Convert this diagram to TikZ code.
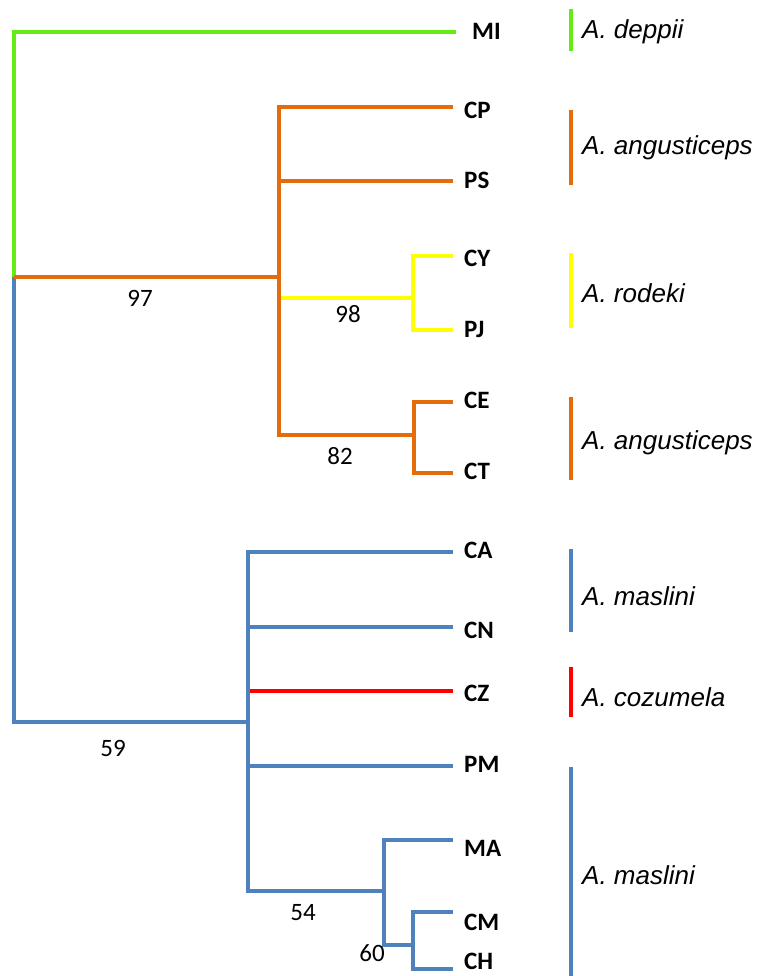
\documentclass[tikz,border=0pt]{standalone}
\usepackage{fontspec}
\setmainfont{Carlito}
\newfontfamily\arialf{Liberation Sans}
\definecolor{cgreen}{RGB}{100,235,20}
\definecolor{corange}{RGB}{228,108,10}
\definecolor{cyellow}{RGB}{255,255,0}
\definecolor{cblue}{RGB}{79,129,189}
\definecolor{cred}{RGB}{255,0,0}
\tikzset{
  br/.style={line width=4pt, line join=miter},
  gr/.style={br, draw=cgreen},
  orl/.style={br, draw=corange},
  yl/.style={br, draw=cyellow},
  bl/.style={br, draw=cblue},
  rd/.style={br, draw=cred},
  leaf/.style={anchor=west, inner sep=0pt, font=\fontsize{25}{28}\selectfont\bfseries},
  boot/.style={inner sep=0pt, font=\fontsize{25}{28}\selectfont},
  spec/.style={anchor=west, inner sep=0pt, font=\arialf\itshape\fontsize{26}{30}\selectfont},
  bar/.style={line width=4pt}
}
\begin{document}
\begin{tikzpicture}[x=1pt,y=-1pt]
\useasboundingbox (0,0) rectangle (758,976);
% internal nodes
\coordinate (root) at (14,277);
\coordinate (n97) at (279,277);
\coordinate (n98) at (413,298);
\coordinate (n82) at (414,435);
\coordinate (n59) at (248,722);
\coordinate (n54) at (384,891);
\coordinate (n60) at (413,945);
% branch tips
\coordinate (tMI) at (456,32);
\coordinate (tCP) at (453,107);
\coordinate (tPS) at (453,181);
\coordinate (tCY) at (453,256);
\coordinate (tPJ) at (453,330);
\coordinate (tCE) at (453,402);
\coordinate (tCT) at (453,473);
\coordinate (tCA) at (453,552);
\coordinate (tCN) at (453,627);
\coordinate (tCZ) at (453,691);
\coordinate (tPM) at (453,766);
\coordinate (tMA) at (453,840);
\coordinate (tCM) at (453,912);
\coordinate (tCH) at (453,969);
% leaf labels
\node[leaf] (MI) at (472,31) {MI};
\node[leaf] (CP) at (464,110) {CP};
\node[leaf] (PS) at (464,180) {PS};
\node[leaf] (CY) at (464,258) {CY};
\node[leaf] (PJ) at (464,329) {PJ};
\node[leaf] (CE) at (464,400) {CE};
\node[leaf] (CT) at (464,471) {CT};
\node[leaf] (CA) at (464,550) {CA};
\node[leaf] (CN) at (464,630) {CN};
\node[leaf] (CZ) at (464,693) {CZ};
\node[leaf] (PM) at (464,764) {PM};
\node[leaf] (MA) at (464,848) {MA};
\node[leaf] (CM) at (464,922) {CM};
\node[leaf] (CH) at (464,961) {CH};
% branches
\draw[gr] (root) |- (tMI);
\draw[bl] (root) |- (n59);
\draw[orl] (root) -- (n97);
\draw[orl] (n97) |- (tCP);
\draw[orl] (n97) |- (tPS);
\draw[orl] (n97) |- (n82);
\draw[orl] (n82) |- (tCE);
\draw[orl] (n82) |- (tCT);
\draw[yl] ([xshift=2pt]n97 |- n98) -- (n98);
\draw[yl] (n98) |- (tCY);
\draw[yl] (n98) |- (tPJ);
\draw[bl] (n59) |- (tCA);
\draw[bl] (n59) |- (tCN);
\draw[bl] (n59) |- (tPM);
\draw[bl] (n59) |- (n54);
\draw[rd] ([xshift=2pt]n59 |- tCZ) -- (tCZ);
\draw[bl] (n54) |- (tMA);
\draw[bl] (n54) |- (n60);
\draw[bl] (n60) |- (tCM);
\draw[bl] (n60) |- (tCH);
% bootstrap values
\node[boot] (b97) at (140,298) {97};
\node[boot] (b98) at (348,314) {98};
\node[boot] (b82) at (340,456) {82};
\node[boot] (b59) at (113,748) {59};
\node[boot] (b54) at (303,913) {54};
\node[boot] (b60) at (372,953) {60};
% species bars
\draw[bar, cgreen] (571,9) -- (571,51);
\draw[bar, corange] (571,110) -- (571,185);
\draw[bar, cyellow] (571,253) -- (571,328);
\draw[bar, corange] (571,397) -- (571,480);
\draw[bar, cblue] (571,549) -- (571,632);
\draw[bar, cred] (571,667) -- (571,717);
\draw[bar, cblue] (571,767) -- (571,976);
% species names
\node[spec] (s1) at (582,32) {A. deppii};
\node[spec] (s2) at (582,148) {A. angusticeps};
\node[spec] (s3) at (582,293) {A. rodeki};
\node[spec] (s4) at (582,443) {A. angusticeps};
\node[spec] (s5) at (582,596) {A. maslini};
\node[spec] (s6) at (582,697) {A. cozumela};
\node[spec] (s7) at (582,875) {A. maslini};
\end{tikzpicture}
\end{document}
